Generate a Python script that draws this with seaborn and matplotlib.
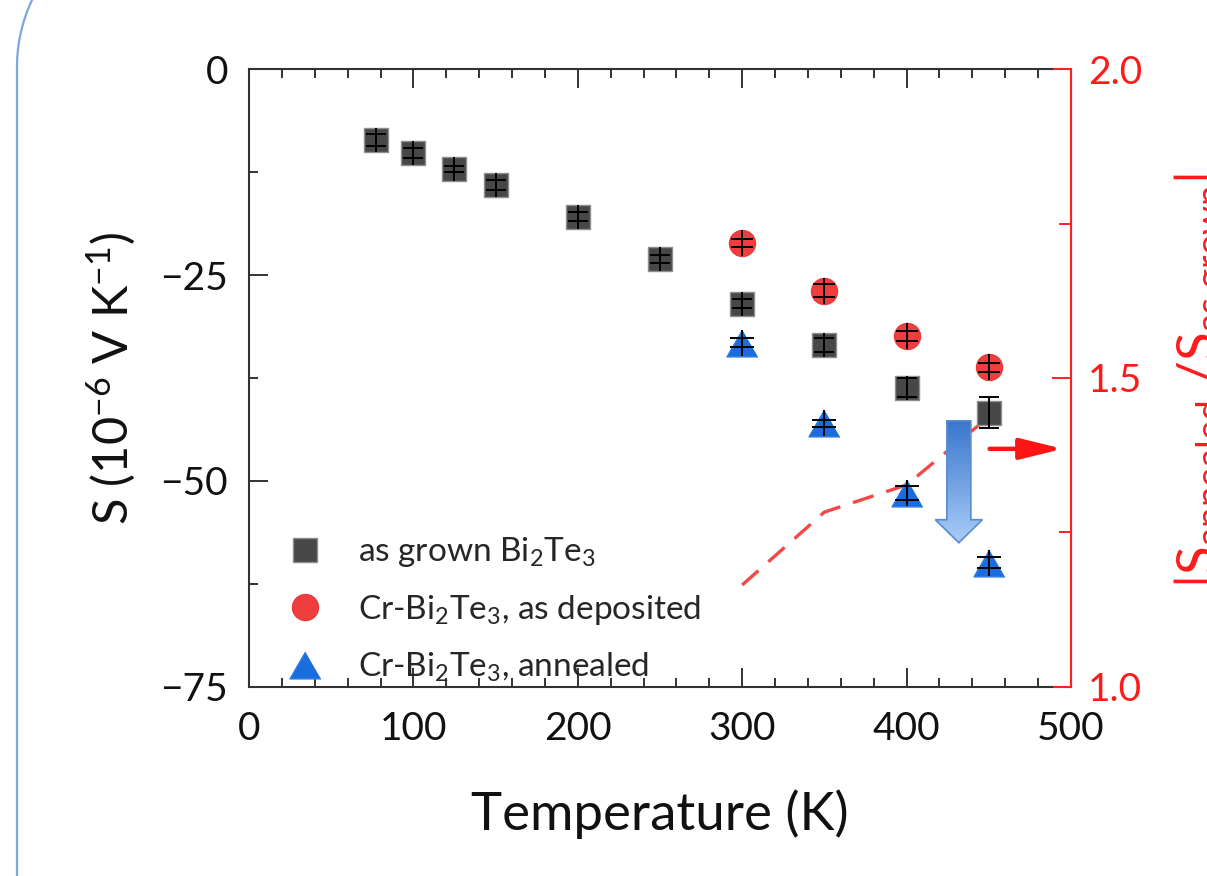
import numpy as np
import pandas as pd
import seaborn as sns
import matplotlib.pyplot as plt
from matplotlib.lines import Line2D
from matplotlib.patches import Polygon
from matplotlib.colors import LinearSegmentedColormap
from matplotlib.ticker import MultipleLocator

sns.set_style("ticks")
plt.rcParams['font.family'] = ['Lato', 'DejaVu Sans']
plt.rcParams['mathtext.fontset'] = 'custom'
plt.rcParams['mathtext.rm'] = 'Lato'
plt.rcParams['mathtext.it'] = 'Lato:italic'
plt.rcParams['mathtext.bf'] = 'Lato:bold'

# as grown Bi2Te3
T_grown = [77, 100, 125, 150, 200, 250, 300, 350, 400, 450]
S_grown = [-8.6, -10.2, -12.1, -14.1, -17.9, -23.1, -28.5, -33.5, -38.7, -41.7]
err_grown = [0.75, 0.6, 0.36, 0.6, 0.5, 0.5, 0.55, 0.85, 1.15, 1.9]

# Cr-Bi2Te3
T_cr = [300, 350, 400, 450]
S_dep = [-21.1, -26.9, -32.4, -36.2]
err_dep = [0.45, 0.75, 0.65, 0.55]
S_ann = [-33.2, -43.0, -51.4, -59.9]
err_ann = [0.5, 0.45, 0.85, 0.65]

# |S_annealed / S_as grown| (right axis)
ratio = [1.165, 1.283, 1.327, 1.437]

labels = ["as grown Bi$_\\mathrm{2}$Te$_\\mathrm{3}$",
          "Cr-Bi$_\\mathrm{2}$Te$_\\mathrm{3}$, as deposited",
          "Cr-Bi$_\\mathrm{2}$Te$_\\mathrm{3}$, annealed"]

grown = pd.DataFrame({"T": T_grown, "S": S_grown, "err": err_grown})
dep = pd.DataFrame({"T": T_cr, "S": S_dep, "err": err_dep})
ann = pd.DataFrame({"T": T_cr, "S": S_ann, "err": err_ann})

tri = [(0, 0.866), (-1, -0.866), (1, -0.866)]
styles = [
    # df, marker, area, colour, edge, bar height, capsize
    (grown, "s", 275, "#474747", "#8e8e8e", 16.6, 7.0),
    (dep, "o", 350, "#f03e3e", "#e83838", 18.7, 8.0),
    (ann, tri, 497, "#1a6ddf", "#2f7be6", 19.4, 8.5),
]

red = "#ff2020"
fig = plt.figure(figsize=(12.07, 8.76), dpi=100)
ax = fig.add_axes([0.2063, 0.2158, 0.6810, 0.7054])
ax2 = ax.twinx()

# ratio line on the right axis
sns.lineplot(x=T_cr, y=ratio, ax=ax2, color="#f24848", lw=2.4, legend=False)
ax2.lines[0].set_linestyle((0, (6.5, 4)))
ax2.set_ylim(1.0, 2.0)

ax.set_zorder(ax2.get_zorder() + 1)
ax.patch.set_visible(False)

for df, mk, area, col, edge, hgt, cap in styles:
    sns.scatterplot(data=df, x="T", y="S", ax=ax, marker=mk, s=area,
                    color=col, edgecolor=edge, linewidth=1, zorder=3, legend=False)
    ax.errorbar(df["T"], df["S"], yerr=df["err"], fmt="none", ecolor="black",
                elinewidth=1.4, capsize=cap, capthick=1.4, zorder=4)
    ax.plot(df["T"], df["S"], ls="none", marker="|", ms=hgt, mew=1.4,
            color="black", zorder=4)

ax.set_xlim(0, 500)
ax.set_ylim(-75, 0)

# big gradient arrow (annealing effect)
xc, hs, hh = 431.8, 7.3, 14.3
y_top, y_neck, y_tip = -42.7, -54.7, -57.5
arrow = Polygon([(xc - hs, y_top), (xc + hs, y_top), (xc + hs, y_neck),
                 (xc + hh, y_neck), (xc, y_tip), (xc - hh, y_neck),
                 (xc - hs, y_neck)], closed=True, facecolor="none",
                edgecolor="#5b8bd0", lw=1.2, zorder=6)
ax.add_patch(arrow)
blues = LinearSegmentedColormap.from_list("arr", ["#3a76cc", "#aacdf8"])
grad = np.linspace(0, 1, 256).reshape(-1, 1)
im = ax.imshow(grad, extent=[xc - hh, xc + hh, y_tip, y_top], origin="upper",
               cmap=blues, aspect="auto", zorder=5)
im.set_clip_path(arrow)
ax.set_xlim(0, 500)
ax.set_ylim(-75, 0)

# red arrow pointing to right axis
ax.annotate("", xy=(495, -46.1), xytext=(450.5, -46.1),
            arrowprops=dict(arrowstyle="-|>,head_length=1.3,head_width=0.32",
                            color="#ff1414", lw=3.2, mutation_scale=20,
                            shrinkA=0, shrinkB=0),
            annotation_clip=False, zorder=6)

# axes styling: black frame, red right side (and the last bit of top/bottom)
spine_c = "#333333"
for side in ["left", "top", "bottom"]:
    ax.spines[side].set_color(spine_c)
    ax.spines[side].set_linewidth(1.5)
ax.spines["top"].set_bounds(0, 488.5)
ax.spines["bottom"].set_bounds(0, 488.5)
ax.spines["right"].set_color(red)
ax.spines["right"].set_linewidth(1.5)
ax2.spines["left"].set_visible(False)
ax2.spines["right"].set_color(red)
for side in ["top", "bottom"]:
    ax2.spines[side].set_color(red)
    ax2.spines[side].set_linewidth(1.5)
    ax2.spines[side].set_bounds(488.5, 500)

ax.xaxis.set_major_locator(MultipleLocator(100))
ax.xaxis.set_minor_locator(MultipleLocator(20))
ax.yaxis.set_major_locator(MultipleLocator(25))
ax.yaxis.set_minor_locator(MultipleLocator(12.5))
ax.tick_params(which="both", direction="in", top=True, bottom=True,
               left=True, right=False, color=spine_c, width=1.4)
ax.tick_params(which="major", length=13.7, labelsize=28, labelcolor="#111111")
ax.tick_params(which="minor", length=6.5)
ax.tick_params(axis="x", which="major", pad=17)
ax.tick_params(axis="y", which="major", pad=15)

ax2.yaxis.set_major_locator(MultipleLocator(0.5))
ax2.yaxis.set_minor_locator(MultipleLocator(0.25))
ax2.yaxis.set_major_formatter(plt.FormatStrFormatter("%.1f"))
ax2.tick_params(axis="y", which="both", direction="in", color=red,
                labelcolor="#ff1a1a", width=1.4)
ax2.tick_params(axis="y", which="major", length=13.7, labelsize=28, pad=12)
ax2.tick_params(axis="y", which="minor", length=9)

ax.set_xlabel("Temperature (K)", fontsize=38, color="#111111")
ax.set_ylabel("S (10$^{-6}$ V K$^{-1}$)", fontsize=35, color="#111111")
ax.xaxis.set_label_coords(0.5, -0.165)
ax.yaxis.set_label_coords(-0.135, 0.5)

fig.text(1173 / 1207, 1 - 380 / 876,
         "|S$_\\mathrm{annealed}$ /S$_\\mathrm{as\\ grown}$|",
         rotation=90, ha="left", va="center", fontsize=38, color="#ff1a1a")

handles = []
for df, mk, area, col, edge, hgt, cap in styles:
    handles.append(Line2D([], [], ls="none", marker=mk, ms=np.sqrt(area),
                          mfc=col, mec=edge, mew=1))
ax.legend(handles, labels, loc="lower left", bbox_to_anchor=(0.027, 0.005),
          fontsize=24, frameon=False, handlelength=2, handletextpad=0.6,
          labelspacing=0.71, borderpad=0, borderaxespad=0, numpoints=1)

# rounded panel border on the left (inches)
th = np.radians(np.linspace(180, 135, 40))
bx = np.r_[0.17, 1.74 + 1.57 * np.cos(th)]
by = np.r_[-0.5, 8.09 + 1.57 * np.sin(th)]
fig.add_artist(Line2D(bx, by, transform=fig.dpi_scale_trans,
                      color="#7ea6de", lw=1.6))

fig.savefig("out.png", dpi=100)
